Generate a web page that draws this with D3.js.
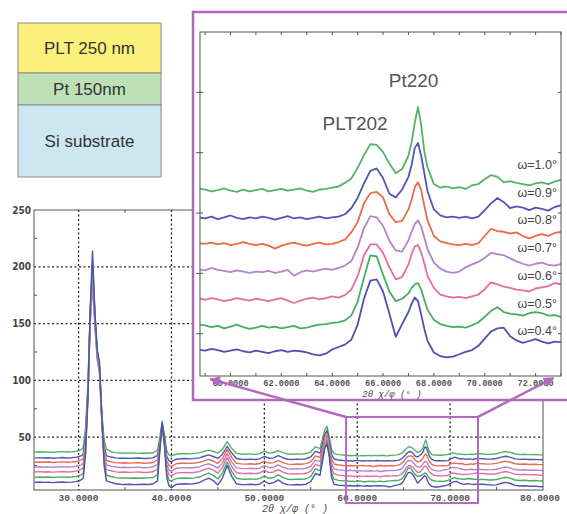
<!DOCTYPE html>
<html>
<head>
<meta charset="utf-8">
<script src="https://cdn.jsdelivr.net/npm/d3@7"></script>
<style>
  body { margin: 0; background: #fff; }
  svg { display: block; }
</style>
</head>
<body>
<div id="chart"></div>
<script>
// 2θ positions (deg) shared by every scan
const twoTheta = [
  25.25, 25.75, 26.25, 26.75, 27.25, 27.75, 28.25, 28.75, 29.25, 29.75, 30.25,
  30.5, 30.75, 31, 31.25, 31.5, 31.75, 32, 32.25, 32.5, 32.75, 33,
  33.5, 34, 34.5, 35, 35.5, 36, 36.5, 37, 37.5, 38, 38.5,
  38.75, 39, 39.25, 39.5, 39.75, 40,
  40.5, 41, 41.5, 42, 42.5, 43, 43.5, 44, 44.5, 45, 45.5, 46, 46.5, 47, 47.5, 48, 48.5, 49, 49.5, 50, 50.5, 51, 51.5, 52, 52.5, 53, 53.5, 54, 54.5, 55, 55.5,
  56, 56.25, 56.5, 56.75, 57, 57.25, 57.5, 58, 58.5,
  59, 59.25, 59.5, 59.75, 60, 60.25, 60.5, 60.75, 61, 61.25, 61.5, 61.75, 62, 62.25, 62.5, 62.75, 63, 63.25, 63.5, 63.75,
  64, 64.25, 64.5, 64.75, 65, 65.25, 65.5, 65.75, 66, 66.25, 66.5, 66.75, 67,
  67.125, 67.25, 67.375, 67.5, 67.625, 67.75,
  68, 68.25, 68.5, 68.75, 69, 69.25, 69.5, 69.75, 70, 70.25, 70.5, 70.75, 71, 71.25, 71.5, 71.75, 72, 72.25, 72.5, 72.75, 73,
  73.5, 74, 74.5, 75, 75.5, 76, 76.5, 77, 77.5, 78, 78.5, 79, 79.5, 80
];

// intensity for each incidence angle ω
const w10 = [
  36.8, 37.2, 36.9, 37.1, 36.7, 37.0, 37.3, 36.9, 37.1, 37.6, 38.8,
  41, 58, 96, 158, 198, 155, 124, 112, 72, 47, 39.5,
  37.0, 36.4, 36.1, 35.8, 36.2, 36.0, 35.7, 36.1, 35.9, 36.3, 38.5,
  50, 64, 52, 38, 34.5, 33.5,
  35.0, 35.4, 35.6, 35.3, 35.7, 36.2, 37.5, 38.6, 37.4, 36.0, 39.5, 46.0, 40.0, 35.8, 35.2, 35.0, 35.3, 34.9, 35.5, 37.8, 36.0, 36.5, 38.2, 36.4, 35.2, 35.0, 35.3, 35.1, 35.6, 37.0, 41.5,
  40.0, 48.0, 56.5, 59.5, 50.0, 39.0, 35.5, 34.6, 34.3,
  33.9, 33.6, 33.8, 34.1, 33.7, 33.5, 33.9, 33.6, 33.8, 34.0, 33.6, 33.8, 34.0, 33.7, 33.9, 34.1, 33.7, 33.5, 33.9, 34.0,
  34.2, 34.4, 35.0, 35.7, 37.5, 39.6, 41.4, 41.3, 40.1, 38.2, 36.6, 37.3, 39.5,
  41.8, 45.0, 47.6, 44.6, 40.2, 37.6,
  34.8, 34.2, 34.4, 34.1, 34.3, 34.0, 34.6, 34.8, 35.6, 36.3, 36.0, 35.1, 35.3, 35.0, 34.8, 34.6, 34.9, 35.1, 34.8, 35.2, 35.5,
  35.2, 34.9, 35.0, 35.4, 36.6, 37.4, 36.5, 35.2, 34.8, 35.0, 34.6, 34.8, 34.5, 34.4
];
const w09 = [
  31.6, 32.0, 31.7, 31.9, 31.5, 31.8, 32.1, 31.7, 31.9, 32.4, 33.6,
  35, 52, 92, 160, 205, 160, 126, 114, 70, 42, 33.5,
  32.5, 31.8, 31.4, 31.6, 31.3, 31.5, 31.7, 31.2, 31.4, 31.8, 34.0,
  47, 62, 49, 33, 29, 28.5,
  30.6, 31.0, 31.2, 30.9, 31.3, 31.8, 33.2, 34.4, 33.0, 31.3, 35.0, 42.0, 35.8, 31.2, 30.6, 30.4, 30.7, 30.3, 30.9, 33.2, 31.4, 31.8, 33.8, 31.9, 30.6, 30.4, 30.7, 30.5, 31.0, 32.6, 37.5,
  36.0, 44.0, 52.5, 56.0, 46.0, 34.5, 30.8, 29.9, 29.5,
  29.1, 29.4, 29.0, 29.3, 29.6, 29.2, 29.0, 29.3, 29.1, 29.4, 29.2, 28.9, 29.2, 29.5, 29.1, 29.3, 29.0, 29.2, 29.4, 29.1,
  29.3, 29.4, 29.8, 30.8, 32.5, 34.9, 37.0, 37.4, 35.8, 33.2, 32.6, 33.9, 36.0,
  38.0, 40.8, 41.6, 39.5, 36.6, 33.6,
  30.6, 29.6, 29.3, 29.4, 29.2, 29.4, 29.1, 29.4, 30.5, 31.6, 32.5, 31.8, 30.8, 31.1, 30.9, 30.5, 30.9, 30.7, 30.4, 31.0, 31.3,
  31.0, 30.7, 30.8, 31.2, 32.4, 33.2, 32.2, 30.9, 30.5, 30.7, 30.3, 30.5, 30.2, 30.1
];
const w08 = [
  27.8, 28.2, 27.9, 28.1, 27.7, 28.0, 28.3, 27.9, 28.1, 28.6, 29.8,
  31, 48, 88, 152, 190, 150, 120, 108, 66, 38, 29.5,
  28.3, 27.6, 27.3, 27.5, 27.2, 27.4, 27.6, 27.1, 27.3, 27.7, 30.0,
  45, 60, 47, 29, 25, 24,
  26.6, 27.0, 27.1, 26.9, 27.3, 27.8, 29.2, 30.4, 29.0, 27.0, 31.2, 39.0, 32.0, 27.0, 26.5, 26.3, 26.6, 26.2, 26.8, 29.0, 27.2, 27.6, 29.6, 27.6, 26.3, 26.1, 26.4, 26.2, 26.7, 28.4, 33.5,
  32.0, 40.5, 49.5, 53.0, 43.0, 30.5, 26.4, 25.5, 25.1,
  24.9, 25.1, 24.8, 25.0, 24.7, 24.9, 25.2, 24.9, 24.7, 24.9, 24.6, 24.1, 24.6, 24.9, 25.1, 24.8, 24.6, 24.9, 25.1, 24.8,
  24.9, 25.2, 25.6, 26.8, 28.5, 31.6, 33.3, 33.5, 32.6, 29.8, 28.5, 28.7, 30.6,
  32.2, 34.3, 35.1, 33.8, 31.2, 28.8,
  26.2, 25.3, 25.0, 24.8, 24.7, 24.9, 24.7, 25.0, 26.2, 27.4, 27.0, 26.9, 26.6, 26.8, 26.2, 25.8, 26.2, 26.5, 26.2, 26.7, 26.9,
  26.6, 26.3, 26.5, 26.9, 28.1, 28.9, 27.9, 26.6, 26.2, 26.4, 26.0, 26.2, 25.9, 25.8
];
const w07 = [
  23.6, 24.0, 23.7, 23.9, 23.5, 23.8, 24.1, 23.7, 23.9, 24.4, 25.6,
  27, 45, 85, 148, 184, 148, 118, 106, 64, 35, 25.5,
  24.5, 23.7, 23.3, 23.5, 23.2, 23.4, 23.6, 23.1, 23.3, 23.8, 26.0,
  43, 59, 45, 26, 21, 20,
  22.6, 23.0, 23.1, 22.9, 23.3, 23.8, 25.4, 26.6, 25.0, 22.8, 27.4, 35.5, 28.0, 23.0, 22.5, 22.3, 22.6, 22.2, 22.8, 25.0, 23.1, 23.6, 25.6, 23.5, 22.2, 22.0, 22.3, 22.1, 22.6, 24.4, 29.8,
  28.5, 37.0, 46.5, 50.5, 40.0, 26.5, 22.0, 21.2, 20.8,
  20.5, 20.9, 20.6, 20.4, 20.2, 20.5, 20.3, 20.1, 20.3, 20.2, 20.4, 20.1, 20.3, 20.6, 19.6, 20.2, 20.5, 20.3, 20.6, 20.8,
  20.6, 20.9, 21.3, 22.0, 24.3, 27.5, 29.5, 29.3, 27.9, 25.4, 23.8, 23.6, 25.5,
  26.9, 28.2, 28.8, 27.8, 25.9, 24.0,
  21.8, 20.8, 20.3, 20.1, 20.3, 21.0, 21.5, 21.9, 22.6, 23.4, 23.2, 23.0, 22.5, 22.0, 21.6, 21.3, 21.6, 21.8, 21.4, 21.3, 21.6,
  21.5, 21.2, 21.4, 21.8, 23.0, 23.8, 22.8, 21.5, 21.1, 21.3, 20.9, 21.1, 20.8, 20.7
];
const w06 = [
  19.3, 19.7, 19.4, 19.6, 19.2, 19.5, 19.8, 19.4, 19.6, 20.1, 21.4,
  23, 42, 86, 155, 194, 154, 122, 110, 65, 32, 21.5,
  20.4, 19.5, 19.1, 19.3, 19.0, 19.2, 19.4, 18.9, 19.1, 19.6, 22.0,
  42, 60, 44, 22, 17, 16,
  18.4, 18.8, 18.9, 18.7, 19.1, 19.7, 21.4, 22.8, 21.0, 18.4, 23.4, 32.0, 24.0, 18.7, 18.2, 18.0, 18.3, 17.9, 18.5, 20.8, 18.8, 19.4, 21.4, 19.2, 17.8, 17.6, 17.9, 17.7, 18.2, 20.2, 26.0,
  24.5, 34.0, 44.0, 48.0, 37.5, 22.5, 17.6, 16.6, 16.2,
  15.6, 15.9, 15.7, 15.4, 15.6, 15.9, 15.7, 15.5, 15.8, 15.6, 15.4, 15.7, 15.9, 15.5, 15.1, 15.5, 15.8, 16.0, 15.7, 15.9,
  16.2, 16.0, 16.4, 17.3, 19.5, 23.0, 24.8, 24.8, 23.4, 21.0, 19.0, 19.4, 21.5,
  23.2, 24.5, 24.7, 23.5, 21.6, 19.6,
  17.6, 16.5, 16.2, 16.0, 16.1, 15.9, 16.2, 16.5, 17.4, 18.5, 18.2, 17.8, 17.6, 17.3, 17.2, 17.0, 17.5, 17.7, 17.9, 18.4, 18.2,
  18.0, 17.6, 17.4, 17.8, 19.0, 19.8, 18.8, 17.4, 17.0, 17.2, 16.8, 17.0, 16.7, 16.5
];
const w05 = [
  14.6, 15.0, 14.7, 14.9, 14.5, 14.8, 15.1, 14.7, 14.9, 15.4, 16.8,
  18, 38, 84, 158, 203, 158, 125, 112, 66, 28, 16.5,
  15.4, 14.4, 14.0, 14.2, 13.9, 14.1, 13.8, 14.0, 14.2, 14.5, 17.0,
  40, 61, 43, 18, 12, 11.5,
  13.5, 13.9, 14.0, 13.8, 14.2, 14.9, 16.8, 18.4, 16.4, 13.2, 18.8, 28.0, 19.6, 13.8, 13.2, 13.0, 13.3, 12.9, 13.5, 16.0, 13.8, 14.6, 16.8, 14.4, 13.0, 12.8, 13.1, 12.9, 13.4, 15.6, 22.0,
  20.5, 31.0, 42.0, 46.0, 35.0, 18.0, 13.0, 12.0, 11.6,
  11.4, 11.1, 11.3, 10.9, 11.2, 11.5, 11.1, 10.8, 11.0, 11.3, 11.0, 11.2, 10.9, 11.1, 11.3, 10.9, 11.0, 11.3, 11.5, 11.6,
  11.8, 11.9, 12.2, 13.0, 15.3, 19.3, 23.0, 22.8, 19.8, 17.0, 15.4, 15.8, 16.7,
  17.6, 18.2, 18.4, 17.3, 15.6, 14.0,
  12.3, 11.6, 11.3, 11.1, 11.2, 11.0, 11.4, 11.9, 12.8, 13.8, 14.4, 13.6, 13.3, 13.2, 13.0, 13.4, 13.6, 13.4, 13.0, 13.1, 12.8,
  12.8, 12.5, 12.3, 12.7, 13.9, 14.7, 13.7, 12.3, 11.9, 12.1, 11.7, 11.9, 11.6, 11.4
];
const w04 = [
  10.1, 10.5, 10.2, 10.4, 10.0, 10.3, 10.6, 10.2, 10.4, 10.9, 12.3,
  14, 35, 82, 162, 214, 162, 128, 116, 68, 25, 11.5,
  10.2, 9.0, 8.6, 8.3, 8.5, 8.2, 8.4, 8.6, 8.3, 8.8, 11.5,
  38, 63, 42, 14, 7, 5.5,
  8.4, 8.8, 9.0, 8.7, 9.2, 10.0, 12.2, 14.0, 11.8, 8.0, 14.2, 25.0, 15.2, 8.9, 8.4, 8.2, 8.5, 8.1, 8.7, 11.4, 9.0, 10.0, 12.4, 9.6, 8.2, 8.0, 8.3, 8.1, 8.6, 11.0, 18.0,
  16.5, 28.0, 40.0, 44.0, 32.0, 14.0, 8.6, 7.8, 7.5,
  7.2, 7.5, 7.3, 7.0, 7.2, 7.4, 7.1, 6.9, 7.2, 7.0, 6.8, 7.1, 7.3, 7.0, 7.2, 7.1, 6.9, 6.6, 6.4, 6.7,
  7.4, 7.8, 8.2, 9.0, 11.5, 15.8, 18.8, 19.0, 17.0, 13.3, 9.5, 11.6, 13.6,
  15.0, 16.0, 15.4, 13.2, 10.8, 8.8,
  6.9, 6.3, 6.1, 6.2, 6.6, 7.0, 7.3, 8.0, 9.2, 10.4, 10.9, 11.0, 9.6, 8.9, 8.5, 8.8, 9.1, 8.7, 8.4, 8.7, 8.6,
  8.5, 8.2, 7.8, 8.0, 9.4, 10.2, 9.2, 7.6, 7.0, 7.2, 6.8, 6.9, 6.6, 6.4
];

const omegaLabels = ['ω=1.0°', 'ω=0.9°', 'ω=0.8°', 'ω=0.7°', 'ω=0.6°', 'ω=0.5°', 'ω=0.4°'];
const scanColors = ['#52b369', '#5256b3', '#ea6a48', '#b682c9', '#e86b9f', '#45ae61', '#4f50b0'];
const scans = [w10, w09, w08, w07, w06, w05, w04];

const mainXTicks = [30, 40, 50, 60, 70, 80];
const mainGridX = [30, 40, 50, 60, 70];
const mainYTicks = [50, 100, 150, 200, 250];
const insetXTicks = [60, 62, 64, 66, 68, 70, 72];
const peakNames = ['PLT202', 'Pt220'];
const layerNames = ['PLT 250 nm', 'Pt 150nm', 'Si substrate'];
const layerColors = ['#fbf07c', '#bde0b7', '#cce7f1'];
const axisTitle = '2θ χ/φ (° )';

// ------------------------------------------------------------
const purple = '#b069bb';
const fmt4 = d3.format('.4f');

const svg = d3.select('#chart').append('svg')
  .attr('width', 567)
  .attr('height', 514);

const defs = svg.append('defs');
defs.append('clipPath').attr('id', 'clipMain')
  .append('rect').attr('x', 34).attr('y', 210).attr('width', 509).attr('height', 280);
defs.append('clipPath').attr('id', 'clipInset')
  .append('rect').attr('x', 200).attr('y', 32).attr('width', 361).attr('height', 344);
defs.append('marker').attr('id', 'arrow')
  .attr('viewBox', '0 0 10 10').attr('refX', 9).attr('refY', 5)
  .attr('markerWidth', 5).attr('markerHeight', 4.2).attr('markerUnits', 'strokeWidth')
  .attr('orient', 'auto')
  .append('path').attr('d', 'M0,0 L10,5 L0,10 z').attr('fill', purple);

// main chart scales
const x = d3.scaleLinear().domain([25.2, 80]).range([34, 543]);
const y = d3.scaleLinear().domain([3.5, 250]).range([490, 210]);

const main = svg.append('g');

// dotted grid
main.selectAll('.gx').data(mainGridX).enter().append('line')
  .attr('x1', d => x(d)).attr('x2', d => x(d))
  .attr('y1', y(250)).attr('y2', y(3.5))
  .attr('stroke', '#222').attr('stroke-width', 1.3).attr('stroke-dasharray', '2,2.5');
main.selectAll('.gy').data(mainYTicks.filter(d => d < 250)).enter().append('line')
  .attr('x1', x(25.2)).attr('x2', x(80))
  .attr('y1', d => y(d)).attr('y2', d => y(d))
  .attr('stroke', '#222').attr('stroke-width', 1.3).attr('stroke-dasharray', '2,2.5');

// scans (main)
const lineMain = d3.line()
  .defined(d => d[1] != null)
  .x(d => x(d[0])).y(d => y(d[1]));
main.append('g').attr('clip-path', 'url(#clipMain)')
  .selectAll('path').data(scans).enter().append('path')
  .attr('d', v => lineMain(twoTheta.map((t, i) => [t, v[i]])))
  .attr('fill', 'none')
  .attr('stroke', (v, i) => scanColors[i])
  .attr('stroke-width', 1.4)
  .attr('stroke-linejoin', 'round');

// frame
main.append('rect')
  .attr('x', x(25.2)).attr('y', y(250))
  .attr('width', x(80) - x(25.2)).attr('height', y(3.5) - y(250))
  .attr('fill', 'none').attr('stroke', '#555').attr('stroke-width', 1);

// minor ticks
main.selectAll('.my').data([25, 75, 125, 175, 225]).enter().append('line')
  .attr('x1', x(25.2)).attr('x2', x(25.2) + 3)
  .attr('y1', d => y(d)).attr('y2', d => y(d))
  .attr('stroke', '#555');
main.selectAll('.mx').data([35, 45, 55, 65, 75]).enter().append('line')
  .attr('x1', d => x(d)).attr('x2', d => x(d))
  .attr('y1', y(3.5)).attr('y2', y(3.5) - 3)
  .attr('stroke', '#555');
main.selectAll('.mxt').data([35, 45, 55]).enter().append('line')
  .attr('x1', d => x(d)).attr('x2', d => x(d))
  .attr('y1', y(250)).attr('y2', y(250) + 3)
  .attr('stroke', '#555');

// tick labels
main.selectAll('.yl').data(mainYTicks).enter().append('text')
  .attr('x', 31).attr('y', d => y(d) + 3.5)
  .attr('text-anchor', 'end')
  .style('font-family', "'DejaVu Sans Condensed', 'DejaVu Sans', sans-serif")
  .style('font-size', '10px').style('font-weight', 'bold')
  .attr('fill', '#444')
  .text(d => d);
main.selectAll('.xl').data(mainXTicks).enter().append('text')
  .attr('x', d => d === 80 ? x(d) - 3 : x(d)).attr('y', 501)
  .attr('text-anchor', 'middle')
  .style('font-family', "'Liberation Mono', 'DejaVu Sans Mono', monospace")
  .style('font-size', '9.5px').style('font-weight', 'bold')
  .attr('fill', '#555')
  .text(d => fmt4(d));
main.append('text')
  .attr('x', 295).attr('y', 512)
  .attr('text-anchor', 'middle')
  .style('font-family', "'Liberation Mono', 'DejaVu Sans Mono', monospace")
  .style('font-size', '10px').style('font-style', 'italic')
  .attr('fill', '#444')
  .text(axisTitle);

// zoom window on the main chart
const zx0 = 58.8, zx1 = 73, zy0 = -8, zy1 = 67.8;
main.append('rect')
  .attr('x', x(zx0)).attr('y', y(zy1))
  .attr('width', x(zx1) - x(zx0)).attr('height', y(zy0) - y(zy1))
  .attr('fill', 'none').attr('stroke', purple).attr('stroke-width', 2);

// ------------------------------------------------------------
// inset (zoomed view)
const ix = d3.scaleLinear().domain([58.8, 73]).range([200, 561]);
const iy = d3.scaleLinear().domain([3, 60]).range([376, 32]);

const inset = svg.append('g');
inset.append('rect')
  .attr('x', 193).attr('y', 12).attr('width', 390).attr('height', 388)
  .attr('fill', '#fff').attr('stroke', purple).attr('stroke-width', 2.5);

const lineInset = d3.line()
  .defined(d => d[1] != null)
  .x(d => ix(d[0])).y(d => iy(d[1]));
inset.append('g').attr('clip-path', 'url(#clipInset)')
  .selectAll('path').data(scans).enter().append('path')
  .attr('d', v => lineInset(twoTheta.map((t, i) => [t, v[i]]).filter(d => d[0] >= 58 && d[0] <= 74)))
  .attr('fill', 'none')
  .attr('stroke', (v, i) => scanColors[i])
  .attr('stroke-width', 1.8)
  .attr('stroke-linejoin', 'round');

inset.append('rect')
  .attr('x', 200).attr('y', 32).attr('width', 361).attr('height', 344)
  .attr('fill', 'none').attr('stroke', '#555').attr('stroke-width', 1);

// inset ticks
const iTicksX = d3.range(59, 74, 1);
inset.selectAll('.itb').data(iTicksX).enter().append('line')
  .attr('x1', d => ix(d)).attr('x2', d => ix(d))
  .attr('y1', 376).attr('y2', 373).attr('stroke', '#555');
inset.selectAll('.itt').data(iTicksX).enter().append('line')
  .attr('x1', d => ix(d)).attr('x2', d => ix(d))
  .attr('y1', 32).attr('y2', 35).attr('stroke', '#555');
const iTicksY = [10, 20, 30, 40, 50];
inset.selectAll('.itl').data(iTicksY).enter().append('line')
  .attr('x1', 196).attr('x2', 203)
  .attr('y1', d => iy(d)).attr('y2', d => iy(d)).attr('stroke', '#555');
inset.selectAll('.itr').data(iTicksY).enter().append('line')
  .attr('x1', 558).attr('x2', 561)
  .attr('y1', d => iy(d)).attr('y2', d => iy(d)).attr('stroke', '#555');

inset.selectAll('.ixl').data(insetXTicks).enter().append('text')
  .attr('x', d => ix(d)).attr('y', 386)
  .attr('text-anchor', 'middle')
  .style('font-family', "'Liberation Mono', 'DejaVu Sans Mono', monospace")
  .style('font-size', '8.6px').style('font-weight', 'bold')
  .attr('fill', '#555')
  .text(d => fmt4(d));
inset.append('text')
  .attr('x', 392).attr('y', 397)
  .attr('text-anchor', 'middle')
  .style('font-family', "'Liberation Mono', 'DejaVu Sans Mono', monospace")
  .style('font-size', '9px').style('font-style', 'italic')
  .attr('fill', '#444')
  .text(axisTitle);

// peak names
inset.append('text')
  .attr('x', ix(64.9)).attr('y', iy(43.8))
  .attr('text-anchor', 'middle')
  .style('font-family', "'Liberation Sans', Arial, sans-serif")
  .style('font-size', '19px').attr('fill', '#555')
  .text(peakNames[0]);
inset.append('text')
  .attr('x', ix(67.2)).attr('y', iy(50.9))
  .attr('text-anchor', 'middle')
  .style('font-family', "'Liberation Sans', Arial, sans-serif")
  .style('font-size', '19px').attr('fill', '#555')
  .text(peakNames[1]);

// omega labels
inset.selectAll('.om').data(omegaLabels).enter().append('text')
  .attr('x', 557).attr('y', (d, i) => 169 + i * 27.7)
  .attr('text-anchor', 'end')
  .style('font-family', "'Liberation Sans', Arial, sans-serif")
  .style('font-size', '12.5px').attr('fill', '#444')
  .text(d => d);

// connector arrows
svg.append('line')
  .attr('x1', x(zx0)).attr('y1', y(zy1)).attr('x2', ix(59.2)).attr('y2', 379)
  .attr('stroke', purple).attr('stroke-width', 2.5).attr('marker-end', 'url(#arrow)');
svg.append('line')
  .attr('x1', x(zx1)).attr('y1', y(zy1)).attr('x2', ix(72.7)).attr('y2', 378)
  .attr('stroke', purple).attr('stroke-width', 2.5).attr('marker-end', 'url(#arrow)');

// ------------------------------------------------------------
// film stack sketch
const stack = svg.append('g');
const layerTop = [23, 73, 105];
const layerBottom = [73, 105, 177];
stack.selectAll('rect').data(layerNames).enter().append('rect')
  .attr('x', 18).attr('width', 143)
  .attr('y', (d, i) => layerTop[i])
  .attr('height', (d, i) => layerBottom[i] - layerTop[i])
  .attr('fill', (d, i) => layerColors[i])
  .attr('stroke', '#8a8a8a').attr('stroke-width', 1);
stack.selectAll('text').data(layerNames).enter().append('text')
  .attr('x', 89.5)
  .attr('y', (d, i) => (layerTop[i] + layerBottom[i]) / 2 + 6)
  .attr('text-anchor', 'middle')
  .style('font-family', "'Liberation Sans', Arial, sans-serif")
  .style('font-size', '17px').attr('fill', '#333')
  .text(d => d);
</script>
</body>
</html>
